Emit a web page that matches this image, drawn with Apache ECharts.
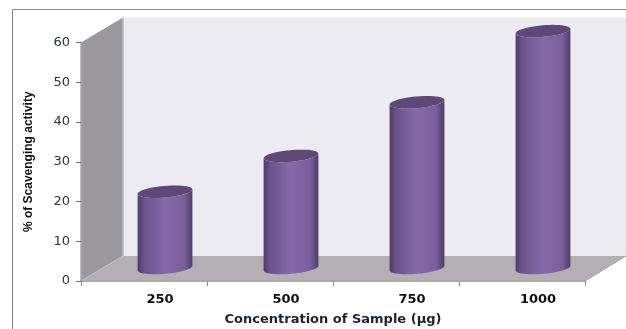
<!DOCTYPE html>
<html>
<head>
<meta charset="utf-8">
<style>html,body{margin:0;padding:0;background:#fff}#c{width:626px;height:329px}</style>
<script src="https://cdn.jsdelivr.net/npm/echarts@6/dist/echarts.min.js"></script>
</head>
<body>
<div id="c"></div>
<script>
const categories = ['250', '500', '750', '1000'];
const scavenging = [19.2, 28.2, 41.7, 59.6];
const yTicks = [0, 10, 20, 30, 40, 50, 60];

// 3D look: depth of the box and of the cylinders, in pixels
const depthX = 42, depthY = -25, rightEdgeDepth = 41;
const barOffsetX = 21, barOffsetY = -13;
const barRadius = 27.5, capRadiusY = 5.8, capTilt = -5 * Math.PI / 180;

const chart = echarts.init(document.getElementById('c'), null, { renderer: 'canvas' });

function ellipsePoints(cx, cy, from, to) {
  const pts = [];
  const n = 48;
  for (let i = 0; i <= n; i++) {
    const t = from + (to - from) * i / n;
    const ex = barRadius * Math.cos(t), ey = capRadiusY * Math.sin(t);
    pts.push([cx + ex * Math.cos(capTilt) - ey * Math.sin(capTilt),
              cy + ex * Math.sin(capTilt) + ey * Math.cos(capTilt)]);
  }
  return pts;
}

function renderBox(params, api) {
  const cs = params.coordSys;
  const x0 = cs.x, x1 = cs.x + cs.width, yb = cs.y + cs.height, yt = cs.y;
  const poly = (points, fill) => ({ type: 'polygon', shape: { points }, style: { fill } });
  const bx = x0 + depthX, by = yb + depthY;
  return {
    type: 'group',
    silent: true,
    children: [
      poly([[bx, yt + depthY], [626, yt + depthY], [626, by], [bx, by]], '#ecebf2'),
      poly([[x0, yb], [x0, yt], [bx, yt + depthY], [bx, by]], '#9b999d'),
      poly([[x0, yb], [x1, yb], [x1 + rightEdgeDepth, by], [bx, by]], '#b3afb4'),
      // pale edges where the walls meet the floor and along its front
      { type: 'line', shape: { x1: bx, y1: yt + depthY, x2: bx, y2: by },
        style: { stroke: '#b9b8bd', lineWidth: 1.5 } },
      { type: 'line', shape: { x1: x0, y1: yb, x2: bx, y2: by },
        style: { stroke: '#c3c1c6', lineWidth: 1 } },
      { type: 'line', shape: { x1: x1, y1: yb, x2: x1 + rightEdgeDepth, y2: by },
        style: { stroke: '#a8a6aa', lineWidth: 1 } }
    ]
  };
}

function renderCylinder(params, api) {
  const base = api.coord([api.value(0), 0]);
  const top = api.coord([api.value(0), api.value(1)]);
  const cx = base[0] + barOffsetX;
  const by = base[1] + barOffsetY, ty = top[1] + barOffsetY;
  const body = ellipsePoints(cx, ty, Math.PI, 0)
    .concat(ellipsePoints(cx, by, 0, Math.PI));
  return {
    type: 'group',
    children: [
      {
        type: 'polygon',
        shape: { points: body },
        style: {
          fill: new echarts.graphic.LinearGradient(0, 0, 1, 0, [
            { offset: 0, color: '#4d3c68' },
            { offset: 0.12, color: '#6a5389' },
            { offset: 0.5, color: '#8669aa' },
            { offset: 0.85, color: '#7a5f9c' },
            { offset: 1, color: '#4d3c68' }
          ])
        }
      },
      {
        type: 'polygon',
        shape: { points: ellipsePoints(cx, ty, 0, Math.PI * 2) },
        style: { fill: '#5d4878' }
      }
    ]
  };
}

chart.setOption({
  animation: false,
  backgroundColor: '#ffffff',
  grid: { left: 81, right: 41, top: 42.5, bottom: 48, containLabel: false, outerBoundsMode: 'none' },
  graphic: [{
    type: 'polyline',
    shape: { points: [[12.5, 329], [12.5, 9.5], [626, 9.5]] },
    style: { stroke: '#8c8c8c', fill: null, lineWidth: 1 },
    silent: true
  }],
  xAxis: {
    type: 'category',
    data: categories,
    name: 'Concentration of Sample (µg)',
    nameLocation: 'middle',
    nameGap: 32,
    nameTextStyle: { color: '#1a2233', fontFamily: 'DejaVu Sans', fontSize: 13, fontWeight: 'bold' },
    axisLine: { show: true, lineStyle: { color: '#a9a9ab', width: 2 } },
    axisTick: { show: true, length: 5, alignWithLabel: false, lineStyle: { color: '#8c8c8c' } },
    axisLabel: {
      color: '#111111', fontFamily: 'DejaVu Sans', fontSize: 13, fontWeight: 'bold', margin: 12,
      padding: [0, 0, 0, 32]
    }
  },
  yAxis: {
    type: 'value',
    min: yTicks[0],
    max: yTicks[yTicks.length - 1],
    interval: yTicks[1] - yTicks[0],
    name: '% of Scavenging activity',
    nameLocation: 'middle',
    nameGap: 46,
    nameTextStyle: { color: '#111111', fontFamily: 'Liberation Sans', fontSize: 12, fontWeight: 'bold' },
    axisLine: { show: true, lineStyle: { color: '#a9a9ab', width: 1.5 } },
    axisTick: { show: true, length: 5, lineStyle: { color: '#777777' } },
    axisLabel: { color: '#2a3448', fontFamily: 'DejaVu Sans', fontSize: 13, margin: 11 },
    splitLine: { show: false }
  },
  series: [
    { type: 'custom', name: 'box', renderItem: renderBox, data: [0], z: 0, silent: true },
    {
      type: 'custom',
      name: 'Scavenging activity',
      renderItem: renderCylinder,
      encode: { x: 0, y: 1 },
      data: categories.map((c, i) => [i, scavenging[i]]),
      z: 5
    }
  ]
});
</script>
</body>
</html>
